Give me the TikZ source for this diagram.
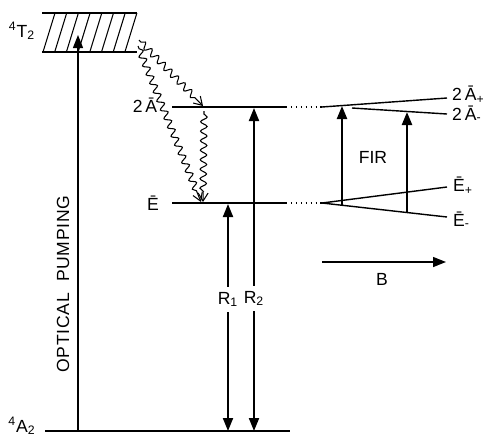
\documentclass[tikz,border=0pt]{standalone}
\usepackage{fontspec}
\setsansfont{Liberation Sans}
\usetikzlibrary{arrows.meta,decorations.pathmorphing,calc}
\tikzset{
  lvl/.style={line width=0.8pt},
  lvldots/.style={line width=0.8pt,dotted},
  hatch/.style={line width=0.6pt},
  pump/.style={-{Triangle[length=2.6mm,width=2mm]},line width=0.8pt},
  lnk/.style={-{Triangle[length=2.6mm,width=2mm]},line width=1.3pt},
  lnkdbl/.style={{Triangle[length=2.6mm,width=2mm]}-{Triangle[length=2.6mm,width=2mm]},line width=1.1pt},
  wavy/.style={-{Straight Barb[length=1.6mm,width=2mm]},line width=0.6pt,
    decorate,decoration={snake,amplitude=0.65mm,segment length=1.9mm,pre length=0.6mm,post length=1.6mm}},
  lbl/.style={font=\sffamily\normalsize,inner sep=1pt},
  gaplbl/.style={lbl,fill=white,inner xsep=1pt,inner ysep=3pt},
}
\begin{document}
\begin{tikzpicture}[x=0.02cm,y=-0.02cm]
  \useasboundingbox (0,0) rectangle (483,437);
  % levels
  \coordinate (t2a) at (42,13);  \coordinate (t2b) at (137,13);
  \coordinate (t2c) at (42,52);  \coordinate (t2d) at (137,52);
  \coordinate (aa) at (172,107); \coordinate (ab) at (286,107); \coordinate (ac) at (322,107);
  \coordinate (ea) at (172,203); \coordinate (eb) at (286,203); \coordinate (ec) at (322,203);
  \coordinate (ga) at (45,431);  \coordinate (gb) at (290,431);
  \draw[lvl] (t2a) -- (t2b);
  \draw[lvl] (t2c) -- (t2d);
  \foreach \i in {0,...,7}
    \draw[hatch] ({43+11.7*\i},52) -- ({55+11.7*\i},13);
  \draw[lvl] (aa) -- (ab);
  \draw[lvldots] (ab) -- (ac);
  \draw[lvl] (ea) -- (eb);
  \draw[lvldots] (eb) -- (ec);
  \draw[lvl] (ga) -- (gb);
  % Zeeman fan
  \coordinate (apl) at (447,98);  \coordinate (ams) at (352,108); \coordinate (amr) at (447,114);
  \coordinate (epl) at (447,187); \coordinate (emr) at (447,217);
  \draw[lvl] (ac) -- (apl);
  \draw[lvl] (ams) -- (amr);
  \draw[lvl] (ec) -- (epl);
  \draw[lvl] (ec) -- (emr);
  % labels
  \node[lbl] (t2) at (22,31) {\textsuperscript{4}T\textsubscript{2}};
  \node[lbl] (a2) at (22,426) {\textsuperscript{4}A\textsubscript{2}};
  \node[lbl] (abar) at (145,105) {2\,Ā};
  \node[lbl] (ebar) at (153,203) {Ē};
  \node[lbl,anchor=west] (aplus) at (450,95) {2\,Ā\textsubscript{+}};
  \node[lbl,anchor=west] (aminus) at (450,115) {2\,Ā\textsubscript{\raisebox{0.3ex}{-}}};
  \node[lbl,anchor=west] (eplus) at (451,186) {Ē\textsubscript{+}};
  \node[lbl,anchor=west] (eminus) at (451,221) {Ē\textsubscript{\raisebox{0.3ex}{-}}};
  \node[lbl] (fir) at (373,157) {FIR};
  \node[lbl,rotate=90] (op) at (63,284) {\addfontfeature{LetterSpace=4}OPTICAL\ \ PUMPING};
  % pumping and relaxation
  \coordinate (opb) at (78,431); \coordinate (opt) at (78,35);
  \draw[pump] (opb) -- (opt);
  \draw[wavy] (139,40) -- (203,106);
  \draw[wavy] (138,46) -- (201,202);
  \draw[wavy] (204,111) -- (203,202);
  % R lines
  \coordinate (r1t) at (228,204); \coordinate (r1b) at (228,431);
  \coordinate (r2t) at (254,108); \coordinate (r2b) at (254,431);
  \draw[lnkdbl] (r1b) -- node[gaplbl,pos=0.58] (r1) {R\textsubscript{1}} (r1t);
  \draw[lnkdbl] (r2b) -- node[gaplbl,pos=0.41] (r2) {R\textsubscript{2}} (r2t);
  % FIR transitions
  \coordinate (f1b) at (342,205); \coordinate (f1t) at (342,106);
  \coordinate (f2b) at (407,213); \coordinate (f2t) at (407,112);
  \draw[lnk] (f1b) -- (f1t);
  \draw[lnk] (f2b) -- (f2t);
  % field
  \coordinate (bl) at (322,262); \coordinate (br) at (446,262);
  \draw[pump] (bl) -- (br);
  \node[lbl] (b) at (382,279) {B};
\end{tikzpicture}
\end{document}
